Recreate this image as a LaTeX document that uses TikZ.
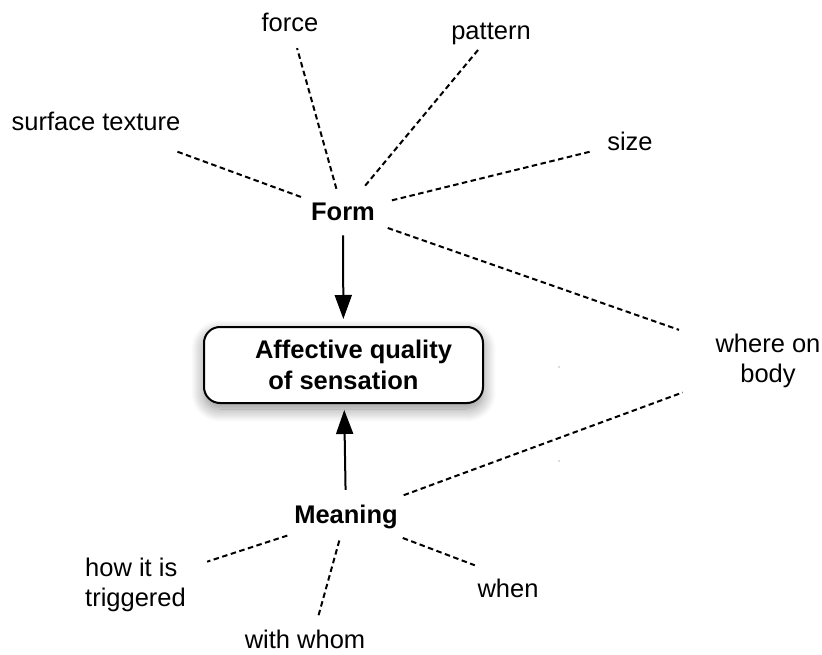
\documentclass[tikz,border=0pt]{standalone}
\usepackage{fontspec}
\setmainfont{Liberation Sans}
\usetikzlibrary{arrows.meta,shadows.blur}
\begin{document}
\begin{tikzpicture}[x=1pt,y=-1pt,
  every node/.style={font=\fontsize{25.5}{29.5}\selectfont, inner sep=2pt},
  hub/.style={font=\fontsize{25.5}{29.5}\selectfont\bfseries},
  core/.style={draw, line width=2pt, rounded corners=16pt, fill=white,
    minimum width=279pt, minimum height=76pt, align=center,
    font=\fontsize{25.5}{31}\selectfont\bfseries,
    blur shadow={shadow xshift=0pt, shadow yshift=-6pt,
      shadow blur radius=13pt, shadow blur steps=14, shadow opacity=45}},
  spoke/.style={line width=2pt, dash pattern=on 5.5pt off 3.5pt},
  feed/.style={line width=2pt, -{Triangle[length=24pt,width=17pt]}}]
\useasboundingbox (0,0) rectangle (822,655);

% central concept and its two drivers
\node[core] (box) at (343.5,365) {\hspace*{20pt}Affective quality\\of sensation};
\node[hub, anchor=base] (form) at (343,221) {Form};
\node[hub, anchor=base] (meaning) at (346,523) {Meaning};

% aspects of form
\node[anchor=base] (force) at (290,32) {force};
\node[anchor=base] (pattern) at (491,40) {pattern};
\node[anchor=base] (texture) at (96,131) {surface texture};
\node[anchor=base] (size) at (630,151) {size};
\node[align=center] (where) at (768,361) {where on\\body};

% aspects of meaning
\node[align=left] (how) at (135.5,585) {how it is\\triggered};
\node[anchor=base] (whom) at (305,648) {with whom};
\node[anchor=base] (when) at (508,597) {when};

% dashed spokes around Form
\draw[spoke, shorten <=44.8pt, shorten >=84.8pt] (form.center) -- (texture.center);
\draw[spoke, shorten <=24.5pt, shorten >=26.2pt] (form.center) -- (force.center);
\draw[spoke, shorten <=34.7pt, shorten >=19pt] (form.center) -- (pattern.center);
\draw[spoke, shorten <=50.4pt, shorten >=38.3pt] (form.center) -- (size.center);
\draw[spoke, shorten <=47.4pt, shorten >=94.3pt] (form.center) -- (where.center);

% dashed spokes around Meaning
\draw[spoke, shorten <=61.5pt, shorten >=91pt] (meaning.center) -- (where.center);
\draw[spoke, shorten <=61.7pt, shorten >=75.4pt] (meaning.center) -- (how.center);
\draw[spoke, shorten <=25pt, shorten >=23pt] (meaning.center) -- ([xshift=7pt]whom.center);
\draw[spoke, shorten <=60.7pt, shorten >=35.5pt] (meaning.center) -- ([yshift=10pt]when.center);

% solid arrows into the central concept
\draw[feed, shorten <=12pt, shorten >=7pt] (form) -- (box);
\draw[feed, shorten <=12.5pt, shorten >=6pt] (meaning) -- (box);

% two stray specks
\fill[black!60] (559,367) circle (0.6pt);
\fill[black!60] (559,461) circle (0.6pt);
\end{tikzpicture}
\end{document}
